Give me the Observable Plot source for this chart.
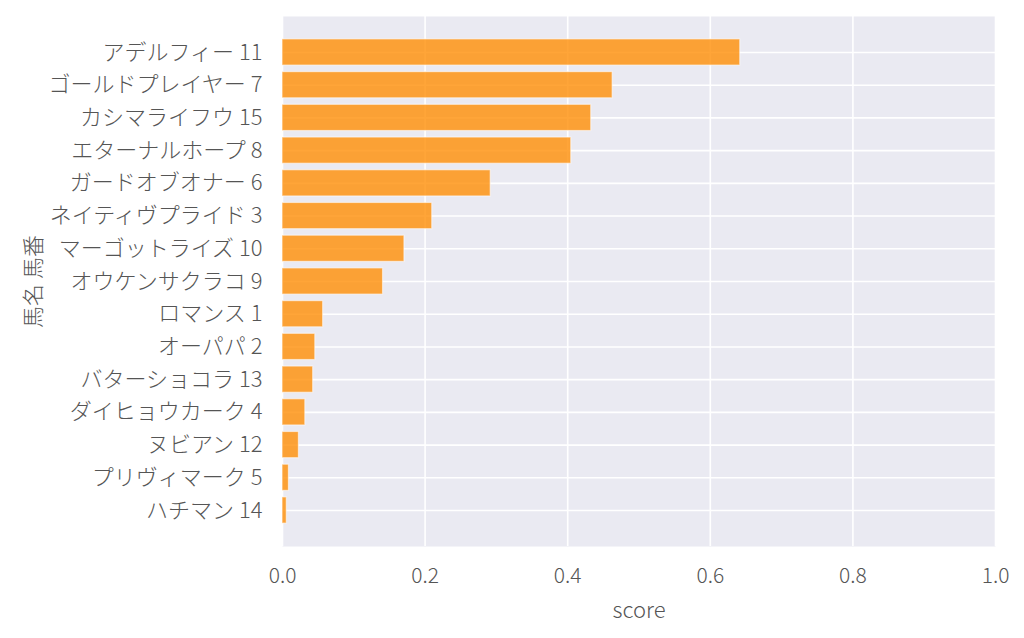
<!DOCTYPE html>
<html>
<head>
<meta charset="utf-8">
<script src="https://cdn.jsdelivr.net/npm/d3@7"></script>
<script src="https://cdn.jsdelivr.net/npm/@observablehq/plot@0.6"></script>
<style>
  html, body { margin: 0; padding: 0; background: #fff; }
  #chart svg { display: block; }
</style>
</head>
<body>
<div id="chart"></div>
<script>
const horses = ["アデルフィー 11", "ゴールドプレイヤー 7", "カシマライフウ 15", "エターナルホープ 8", "ガードオブオナー 6", "ネイティヴプライド 3", "マーゴットライズ 10", "オウケンサクラコ 9", "ロマンス 1", "オーパパ 2", "バターショコラ 13", "ダイヒョウカーク 4", "ヌビアン 12", "プリヴィマーク 5", "ハチマン 14"];
const scores = [0.642, 0.463, 0.433, 0.405, 0.292, 0.210, 0.171, 0.141, 0.057, 0.046, 0.043, 0.032, 0.023, 0.009, 0.006];
const xTicks = [0, 0.2, 0.4, 0.6, 0.8, 1.0];
const xLabel = "score";
const yLabel = "馬名 馬番";

const data = horses.map((h, i) => ({horse: h, score: scores[i]}));
const font = "'Noto Sans CJK JP', 'Noto Sans', sans-serif";

const chart = Plot.plot({
  width: 1024,
  height: 638,
  marginLeft: 282,
  marginRight: 29,
  marginTop: 16,
  marginBottom: 92,
  style: {fontFamily: font, fontSize: "22px", fontWeight: 300, color: "#555", background: "#fff"},
  x: {domain: [0, 1]},
  y: {domain: horses, paddingInner: 0.2, paddingOuter: 0.7, align: 0.5, round: false},
  marks: [
    Plot.frame({fill: "#EAEAF2", stroke: null}),
    Plot.gridX(xTicks, {stroke: "#fff", strokeOpacity: 1, strokeWidth: 1.6}),
    Plot.gridY(horses, {stroke: "#fff", strokeOpacity: 1, strokeWidth: 1.6}),
    Plot.barX(data, {x: "score", y: "horse", fill: "#FF8C00", fillOpacity: 0.78, stroke: "#fff", strokeOpacity: 0.55, strokeWidth: 1.2}),
    Plot.axisX(xTicks, {tickSize: 0, tickPadding: 22, tickFormat: d3.format(".1f"), fontSize: 21, fill: "#555", label: null}),
    Plot.axisY(horses, {tickSize: 0, tickPadding: 20, fontSize: 22, fill: "#555", label: null}),
    Plot.text([xLabel], {frameAnchor: "bottom", dy: 64, textAnchor: "middle", lineAnchor: "middle", fontSize: 22, fill: "#555", text: d => d}),
    Plot.text([yLabel], {frameAnchor: "left", dx: -249, rotate: -90, textAnchor: "middle", lineAnchor: "middle", fontSize: 22, fill: "#555", text: d => d})
  ]
});
document.getElementById("chart").appendChild(chart);
</script>
</body>
</html>
